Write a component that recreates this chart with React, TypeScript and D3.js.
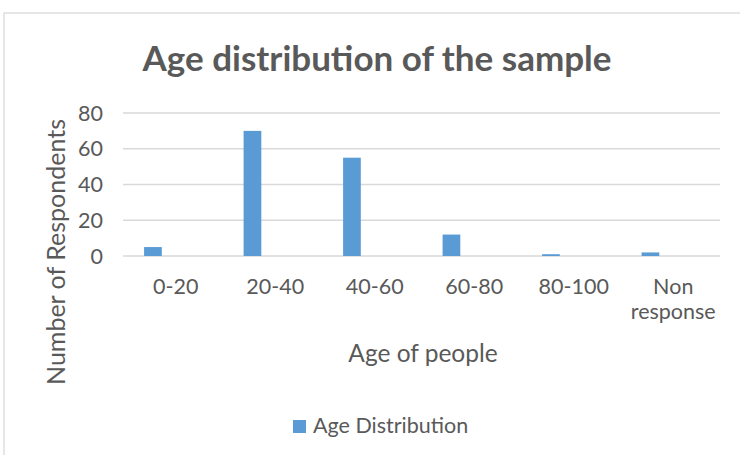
import React from "react";
import * as d3 from "d3";

const categories = ["0-20", "20-40", "40-60", "60-80", "80-100", "Non response"];
const ageDistribution = [5, 70, 55, 12, 1, 2];
const yTicks = [0, 20, 40, 60, 80];
const seriesName = "Age Distribution";

const W = 740;
const H = 455;
const FONT = "Lato, 'Open Sans', sans-serif";
const TEXT = "#595959";
const GRID = "#d9d9d9";
const BAR = "#5b9bd5";

export default function App() {
  const left = 123;
  const right = 720;
  const top = 113;
  const bottom = 256;
  const x = d3.scaleBand<string>().domain(categories).range([left, right]).padding(0);
  const y = d3.scaleLinear().domain([0, 80]).range([bottom, top]);
  const bw = x.bandwidth();
  const barOff = bw * 0.212;
  const barW = bw * 0.178;

  return (
    <svg
      width={W}
      height={H}
      style={{ position: "absolute", left: 0, top: 0, background: "#fff" }}
      fontFamily={FONT}
    >
      <rect x={4} y={13} width={W + 10} height={H + 10} fill="#fff" stroke={GRID} strokeWidth={1.3} />
      <text x={377} y={71} textAnchor="middle" fontSize={35} fontWeight="bold" fill={TEXT}>
        Age distribution of the sample
      </text>
      {yTicks.map((t) => (
        <g key={t}>
          <line x1={left} x2={right} y1={y(t)} y2={y(t)} stroke={GRID} strokeWidth={1.3} />
          <text x={103} y={y(t)} dy="0.35em" textAnchor="end" fontSize={21.5} fill={TEXT}>
            {t}
          </text>
        </g>
      ))}
      {categories.map((c, i) => (
        <rect
          key={c}
          x={(x(c) as number) + barOff}
          y={y(ageDistribution[i])}
          width={barW}
          height={y(0) - y(ageDistribution[i])}
          fill={BAR}
        />
      ))}
      {categories.map((c) => {
        const cx = (x(c) as number) + bw / 2 + 3;
        const parts = c === "Non response" ? ["Non", "response"] : [c];
        return (
          <text key={c} x={cx} y={294} textAnchor="middle" fontSize={21.5} fill={TEXT}>
            {parts.map((p, j) => (
              <tspan key={p} x={cx} dy={j === 0 ? 0 : 25}>
                {p}
              </tspan>
            ))}
          </text>
        );
      })}
      <text x={423} y={362} textAnchor="middle" fontSize={24.5} fill={TEXT}>
        Age of people
      </text>
      <text
        transform={`translate(65,252) rotate(-90)`}
        textAnchor="middle"
        fontSize={25}
        fill={TEXT}
      >
        Number of Respondents
      </text>
      <rect x={293} y={420} width={13} height={13} fill={BAR} />
      <text x={313} y={433} fontSize={21.5} fill={TEXT}>
        {seriesName}
      </text>
    </svg>
  );
}
